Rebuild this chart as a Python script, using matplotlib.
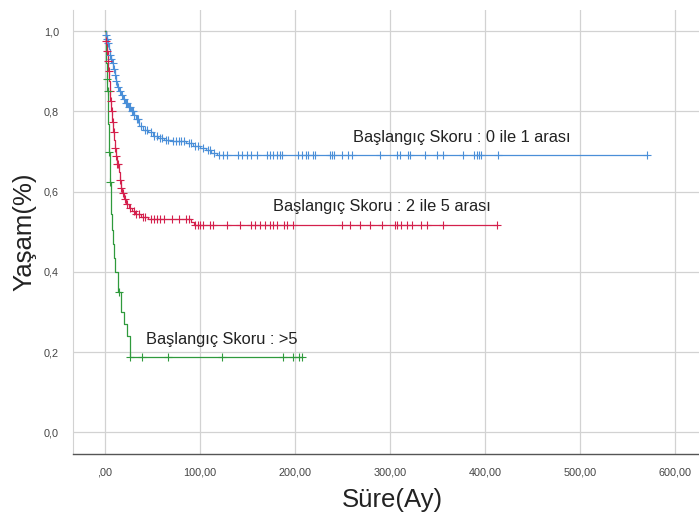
import numpy as np
import matplotlib
matplotlib.use("Agg")
import matplotlib.pyplot as plt
from matplotlib.ticker import FuncFormatter

plt.rcParams['font.family'] = ['Liberation Sans', 'DejaVu Sans']

# Kaplan-Meier basamakları (ay, yaşam oranı)
mavi_t = [0, 1, 2, 3, 4, 5, 6, 7, 8.5, 10, 11.5, 13, 15, 17, 19, 21, 24, 27, 30, 33,
          36, 40, 45, 50, 56, 62, 70, 85, 93, 100, 106, 112, 118]
mavi_s = [1.0, 0.99, 0.98, 0.97, 0.955, 0.94, 0.93, 0.92, 0.905, 0.89, 0.875, 0.862,
          0.85, 0.84, 0.83, 0.82, 0.81, 0.80, 0.79, 0.78, 0.765, 0.755, 0.748, 0.74,
          0.735, 0.73, 0.727, 0.722, 0.715, 0.71, 0.703, 0.697, 0.691]
mavi_sansur = [1, 2, 3, 5, 6, 8, 9, 11, 12, 14, 16, 18, 20, 22, 23, 25, 26, 28, 29, 31,
               34, 35, 38, 42, 44, 48, 52, 55, 58, 60, 64, 66, 72, 75, 78, 80, 83, 88,
               90, 95, 98, 103, 108, 110, 115, 120, 124, 128, 140, 144, 149, 154, 160,
               170, 174, 177, 181, 184, 186, 203, 207, 211, 214, 219, 221, 237, 239,
               241, 249, 256, 260, 289, 307, 310, 319, 321, 337, 349, 356, 377, 388,
               391, 394, 396, 414, 570]

kirmizi_t = [0, 1, 2, 2.8, 3.5, 4.2, 5, 5.6, 6.3, 7.2, 8.2, 9.5, 10.8, 12, 13, 14.5,
             15.5, 16.5, 18, 20, 22, 25, 28, 32, 38, 45, 90, 94]
kirmizi_s = [1.0, 0.975, 0.95, 0.925, 0.90, 0.875, 0.85, 0.825, 0.80, 0.775, 0.75, 0.73,
             0.71, 0.69, 0.67, 0.65, 0.63, 0.61, 0.596, 0.582, 0.57, 0.56, 0.552, 0.545,
             0.538, 0.533, 0.525, 0.517]
kirmizi_sansur = [1, 2, 3, 4, 5, 6, 7, 8, 9, 11, 12, 13, 14, 16, 17, 19, 21, 23, 26, 30,
                  33, 36, 40, 42, 48, 52, 55, 58, 62, 70, 78, 85, 88, 95, 98, 100, 103,
                  110, 114, 128, 142, 154, 158, 163, 168, 174, 177, 181, 188, 191, 198,
                  249, 258, 268, 279, 291, 305, 307, 311, 318, 323, 332, 339, 356, 412]

yesil_t = [0, 0.5, 1.0, 1.8, 2.5, 3.0, 3.5, 4.0, 4.4, 4.8, 5.3, 6.0, 6.8, 7.6, 8.4,
           9.3, 10.2, 13.3, 16.8, 20.0, 23.6, 26.3]
yesil_s = [1.0, 0.96, 0.92, 0.88, 0.85, 0.81, 0.77, 0.73, 0.70, 0.667, 0.625, 0.585,
           0.545, 0.505, 0.47, 0.435, 0.40, 0.35, 0.30, 0.27, 0.24, 0.187]
yesil_sansur = [2.0, 2.8, 4.6, 5.6, 14.5, 26.5, 38.5, 66.7, 122.8, 187.7, 198, 204.6, 207]

gruplar = [
    ("Başlangıç Skoru : 0 ile 1 arası", mavi_t, mavi_s, mavi_sansur, "#4a8fd8", (261, 0.735)),
    ("Başlangıç Skoru : 2 ile 5 arası", kirmizi_t, kirmizi_s, kirmizi_sansur, "#d4204c", (177, 0.562)),
    ("Başlangıç Skoru : >5", yesil_t, yesil_s, yesil_sansur, "#2f9a3c", (43, 0.232)),
]

fig = plt.figure(figsize=(6.99, 5.21), dpi=100)
ax = fig.add_axes([73 / 699, 67 / 521, 626 / 699, 444 / 521])

for etiket, t, s, sansur, renk, (tx, ty) in gruplar:
    t = np.array(t, dtype=float)
    s = np.array(s, dtype=float)
    sansur = np.array(sansur, dtype=float)
    son = sansur.max()
    ax.step(np.append(t, son), np.append(s, s[-1]), where="post", color=renk, lw=0.9, zorder=3)
    idx = np.searchsorted(t, sansur, side="right") - 1
    ax.plot(sansur, s[idx], linestyle="none", marker="+", ms=6, mew=0.8, color=renk, zorder=4)
    ax.text(tx, ty, etiket, fontsize=11.8, color="#222222", va="center", ha="left", zorder=5)

ax.set_xlim(-33.7, 625)
ax.set_ylim(-0.054, 1.053)
ax.set_xticks(np.arange(0, 601, 100))
ax.set_yticks(np.arange(0, 1.01, 0.2))
ax.xaxis.set_major_formatter(FuncFormatter(
    lambda v, p: ",00" if v == 0 else f"{v:.2f}".replace(".", ",")))
ax.yaxis.set_major_formatter(FuncFormatter(lambda v, p: f"{v:.1f}".replace(".", ",")))
ax.tick_params(length=0, labelsize=7.8, labelcolor="#444444", pad=10)
ax.grid(True, color="#d2d2d2", lw=0.9)
ax.set_axisbelow(True)

for k in ["top", "right"]:
    ax.spines[k].set_visible(False)
ax.spines["left"].set_color("#d2d2d2")
ax.spines["bottom"].set_color("#555555")
ax.spines["bottom"].set_linewidth(1.0)

ax.set_xlabel("Süre(Ay)", fontsize=18.5, color="#222222")
ax.set_ylabel("Yaşam(%)", fontsize=18.5, color="#222222")
ax.xaxis.set_label_coords(0.51, -0.076)
ax.yaxis.set_label_coords(-0.058, 0.5)

fig.savefig("out.png", dpi=100)
